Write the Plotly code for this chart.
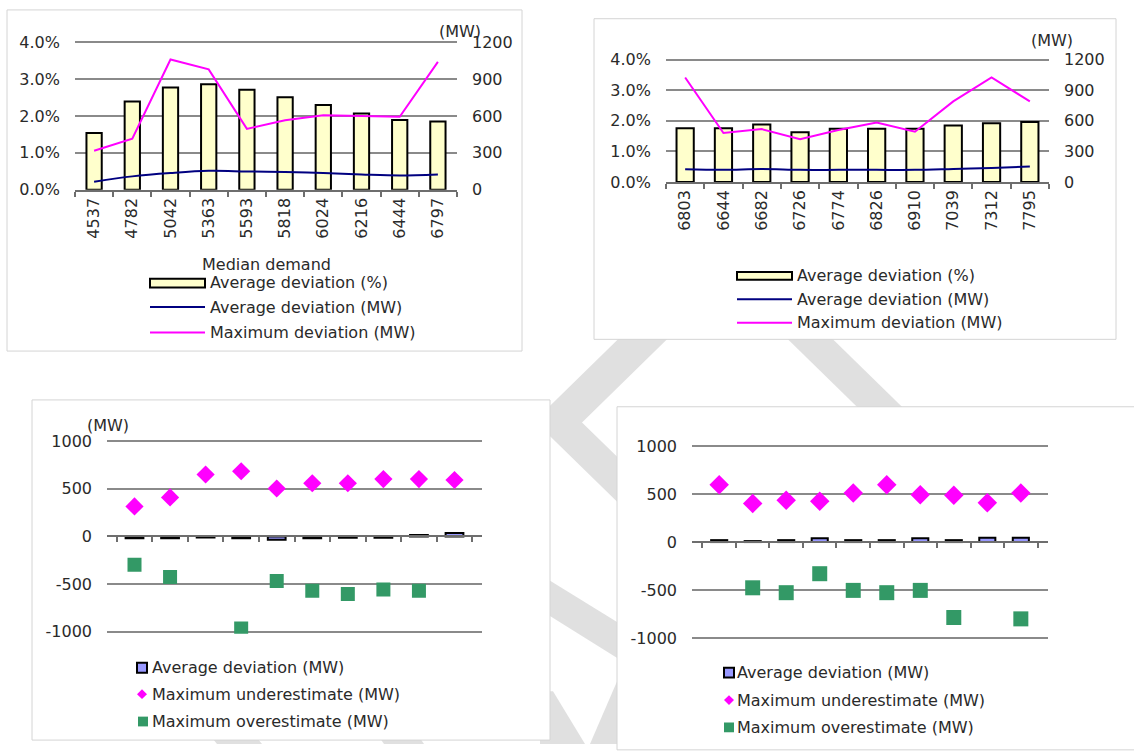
import plotly.graph_objects as go

W, H = 1134, 754


def px(x):
    return x / W


def py(y):
    return 1 - y / H


# ---------------- data ----------------
demand_a = ["4537", "4782", "5042", "5363", "5593", "5818", "6024", "6216", "6444", "6797"]
avg_dev_pct_a = [1.54, 2.39, 2.77, 2.86, 2.71, 2.51, 2.30, 2.07, 1.89, 1.85]
avg_dev_mw_a = [66, 109, 136, 154, 149, 144, 136, 125, 117, 125]
max_dev_mw_a = [317, 415, 1059, 979, 495, 566, 606, 601, 593, 1040]

demand_b = ["6803", "6644", "6682", "6726", "6774", "6826", "6910", "7039", "7312", "7795"]
avg_dev_pct_b = [1.76, 1.76, 1.88, 1.63, 1.74, 1.74, 1.74, 1.85, 1.92, 1.96]
avg_dev_mw_b = [125, 119, 128, 119, 119, 119, 119, 128, 138, 151]
max_dev_mw_b = [1026, 481, 519, 420, 510, 583, 493, 791, 1026, 791]

avg_signed_a = [-20, -20, -10, -20, -35, -20, -15, -15, 15, 35]
max_under_a = [314, 409, 649, 683, 502, 557, 557, 601, 601, 591]
max_over_a = [-297, -426, None, -965, -467, -569, -604, -556, -569, None]

avg_signed_b = [20, 10, 20, 40, 20, 20, 40, 20, 45, 45]
max_under_b = [597, 403, 437, 426, 511, 597, 494, 488, 409, 511]
max_over_b = [None, -477, -528, -330, -504, -528, -504, -787, None, -801]

pct_ticks = [0, 1, 2, 3, 4]
pct_tick_text = ["0.0%", "1.0%", "2.0%", "3.0%", "4.0%"]
mw_ticks = [0, 300, 600, 900, 1200]
mw_tick_text = ["0", "300", "600", "900", "1200"]
dev_ticks = [1000, 500, 0, -500, -1000]
dev_tick_text = ["1000", "500", "0", "-500", "-1000"]

# ---------------- style ----------------
FONT = "DejaVu Sans"
TXT = "#2a2a2a"
GRID = "#8a8a8a"
AXIS = "#6e6e6e"
PINK = "#ff00ff"
NAVY = "#000080"
YEL = "#ffffcc"
GREEN = "#339966"
LAV = "#9999ff"
FS = 16

fig = go.Figure()

# Panel 1
fig.add_trace(go.Bar(x=demand_a, y=avg_dev_pct_a, xaxis="x", yaxis="y", width=0.4,
                     marker=dict(color=YEL, line=dict(color="black", width=2))))
fig.add_trace(go.Scatter(x=demand_a, y=avg_dev_mw_a, xaxis="x", yaxis="y2", mode="lines",
                         line=dict(color=NAVY, width=2, shape="spline")))
fig.add_trace(go.Scatter(x=demand_a, y=max_dev_mw_a, xaxis="x", yaxis="y2", mode="lines",
                         line=dict(color=PINK, width=2)))

# Panel 2
fig.add_trace(go.Bar(x=demand_b, y=avg_dev_pct_b, xaxis="x2", yaxis="y3", width=0.45,
                     marker=dict(color=YEL, line=dict(color="black", width=2))))
fig.add_trace(go.Scatter(x=demand_b, y=avg_dev_mw_b, xaxis="x2", yaxis="y4", mode="lines",
                         line=dict(color=NAVY, width=2, shape="spline")))
fig.add_trace(go.Scatter(x=demand_b, y=max_dev_mw_b, xaxis="x2", yaxis="y4", mode="lines",
                         line=dict(color=PINK, width=2)))

# Panel 3
fig.add_trace(go.Bar(x=demand_a, y=avg_signed_a, xaxis="x3", yaxis="y5", width=0.5,
                     marker=dict(color=LAV, line=dict(color="black", width=2))))
fig.add_trace(go.Scatter(x=demand_a, y=max_under_a, xaxis="x3", yaxis="y5", mode="markers",
                         marker=dict(symbol="diamond", size=14, color=PINK)))
fig.add_trace(go.Scatter(x=demand_a, y=max_over_a, xaxis="x3", yaxis="y5", mode="markers",
                         marker=dict(symbol="square", size=14, color=GREEN)))

# Panel 4
fig.add_trace(go.Bar(x=demand_b, y=avg_signed_b, xaxis="x4", yaxis="y6", width=0.48,
                     marker=dict(color=LAV, line=dict(color="black", width=2))))
fig.add_trace(go.Scatter(x=demand_b, y=max_under_b, xaxis="x4", yaxis="y6", mode="markers",
                         marker=dict(symbol="diamond", size=15, color=PINK)))
fig.add_trace(go.Scatter(x=demand_b, y=max_over_b, xaxis="x4", yaxis="y6", mode="markers",
                         marker=dict(symbol="square", size=15, color=GREEN)))

tickfont = dict(family=FONT, size=FS, color=TXT)


def ext(top_px, bot_px, lo, hi, e_top=2.0, e_bot=0.0):
    """Domain and range so that lo/hi sit at bot_px/top_px with a little slack."""
    k = (hi - lo) / (bot_px - top_px)
    return [py(bot_px + e_bot), py(top_px - e_top)], [lo - k * e_bot, hi + k * e_top]


def cat_x(domain, anchor, labels=True, position=None):
    d = dict(domain=domain, type="category", showgrid=False, zeroline=False,
             showline=True, linecolor=AXIS, linewidth=1.5,
             ticks="outside", tickson="boundaries", ticklen=5, tickcolor=AXIS, tickwidth=1.5,
             tickfont=tickfont, showticklabels=labels, tickangle=-90, fixedrange=True)
    if position is None:
        d["anchor"] = anchor
    else:
        d["anchor"] = "free"
        d["position"] = position
    return d


def val_y(dom_rng, anchor, tickvals, ticktext, side="left", overlay=None, grid=True):
    domain, rng = dom_rng
    d = dict(domain=domain, anchor=anchor, range=rng, tickmode="array", tickvals=tickvals,
             ticktext=ticktext, showgrid=grid, gridcolor=GRID, gridwidth=1.5, zeroline=False,
             showline=False, ticks="", tickfont=tickfont, side=side, ticklabelstandoff=14,
             fixedrange=True)
    if overlay:
        d["overlaying"] = overlay
    return d


layout = dict(
    width=W, height=H, margin=dict(l=0, r=0, t=0, b=0),
    paper_bgcolor="white", plot_bgcolor="rgba(0,0,0,0)", showlegend=False,
    font=dict(family=FONT, size=FS, color=TXT),
    xaxis=cat_x([px(75), px(457)], "y"),
    yaxis=val_y(ext(36, 187, 0, 4), "x", pct_ticks, pct_tick_text),
    yaxis2=val_y(ext(36, 187, 0, 1200), "x", mw_ticks, mw_tick_text, side="right", overlay="y", grid=False),
    xaxis2=cat_x([px(666), px(1049)], "y3"),
    yaxis3=val_y(ext(54, 179, 0, 4), "x2", pct_ticks, pct_tick_text),
    yaxis4=val_y(ext(54, 179, 0, 1200), "x2", mw_ticks, mw_tick_text, side="right", overlay="y3", grid=False),
    xaxis3=cat_x([px(107), px(482)], None, labels=False, position=py(541.7)),
    yaxis5=val_y(ext(444, 639.3, -1000, 1000, 2, 2), "x3", dev_ticks, dev_tick_text),
    xaxis4=cat_x([px(692), px(1048)], None, labels=False, position=py(547.5)),
    yaxis6=val_y(ext(449.3, 645.5, -1000, 1000, 2, 2), "x4", dev_ticks, dev_tick_text),
)
fig.update_layout(**layout)

shapes = []
WM = "#e0e0e0"


def poly(points, color=WM):
    path = "M " + " L ".join(f"{px(x):.5f},{py(y):.5f}" for x, y in points) + " Z"
    return dict(type="path", xref="paper", yref="paper", path=path, fillcolor=color,
                line=dict(width=0), layer="below")


# watermark pieces (visible only between the panels)
shapes.append(poly([(628, 330), (677, 330), (582, 425), (640, 483), (640, 529), (534.5, 423.5)]))
shapes.append(poly([(540, 580.7), (630, 637.4), (630, 674.2), (540, 616.6)]))
shapes.append(poly([(540, 700), (553, 700), (585, 754), (540, 754)]))
shapes.append(poly([(617, 690), (630, 690), (630, 754), (590, 754)]))
shapes.append(poly([(783, 335), (828, 335), (905, 412), (860, 412)]))
shapes.append(poly([(210, 745), (255, 745), (262, 754), (217, 754)]))
shapes.append(poly([(378, 745), (418, 745), (424, 754), (384, 754)]))


def frame(x0, y0, x1, y1):
    return dict(type="rect", xref="paper", yref="paper", x0=px(x0), x1=px(x1), y0=py(y1), y1=py(y0),
                line=dict(color="#d4d4d4", width=1), fillcolor="white", layer="below")


shapes += [frame(7, 3, 522, 352), frame(594, 12, 1116, 340), frame(32, 402, 550, 750),
           frame(617, 409, 1140, 760)]


def rect(x0, y0, x1, y1, fill, lc="black", lw=2):
    return dict(type="rect", xref="paper", yref="paper", x0=px(x0), x1=px(x1), y0=py(y1), y1=py(y0),
                line=dict(color=lc, width=lw), fillcolor=fill, layer="above")


def hline(x0, x1, y, color):
    return dict(type="line", xref="paper", yref="paper", x0=px(x0), x1=px(x1), y0=py(y), y1=py(y),
                line=dict(color=color, width=2), layer="above")


def diamond(cx, cy, r, color):
    return dict(type="path", xref="paper", yref="paper",
                path=f"M {px(cx - r):.5f},{py(cy):.5f} L {px(cx):.5f},{py(cy - r):.5f} "
                     f"L {px(cx + r):.5f},{py(cy):.5f} L {px(cx):.5f},{py(cy + r):.5f} Z",
                fillcolor=color, line=dict(width=0), layer="above")


# legend symbols
shapes += [rect(150, 278, 205, 287, YEL), hline(150, 205, 307, NAVY), hline(150, 205, 333, PINK)]
shapes += [rect(737, 271, 792, 279, YEL), hline(737, 792, 299, NAVY), hline(737, 792, 323, PINK)]
shapes += [rect(137, 671, 147, 681, LAV, lw=2), diamond(142, 703, 5, PINK),
           rect(138, 726, 148, 736, GREEN, lc=GREEN, lw=0)]
shapes += [rect(724, 676, 734, 686, LAV, lw=2), diamond(729, 709, 5, PINK),
           rect(724, 732, 734, 742, GREEN, lc=GREEN, lw=0)]

fig.update_layout(shapes=shapes)

annotations = []


def text(x, y, s, anchor="left"):
    annotations.append(dict(xref="paper", yref="paper", x=px(x), y=py(y), text=s, showarrow=False,
                            xanchor=anchor, yanchor="middle", font=dict(family=FONT, size=FS, color=TXT)))


text(460, 25, "(MW)", "center")
text(1052, 34, "(MW)", "center")
text(108, 428, "(MW)", "center")
text(266, 263, "Median demand", "center")
text(208, 282, "Average deviation (%)")
text(208, 307, "Average deviation (MW)")
text(208, 333, "Maximum deviation (MW)")
text(795, 275, "Average deviation (%)")
text(795, 299, "Average deviation (MW)")
text(795, 323, "Maximum deviation (MW)")
text(150, 676, "Average deviation (MW)")
text(150, 703, "Maximum underestimate (MW)")
text(150, 731, "Maximum overestimate (MW)")
text(735, 681, "Average deviation (MW)")
text(735, 709, "Maximum underestimate (MW)")
text(735, 737, "Maximum overestimate (MW)")
fig.update_layout(annotations=annotations)

fig.write_html("out.html")
